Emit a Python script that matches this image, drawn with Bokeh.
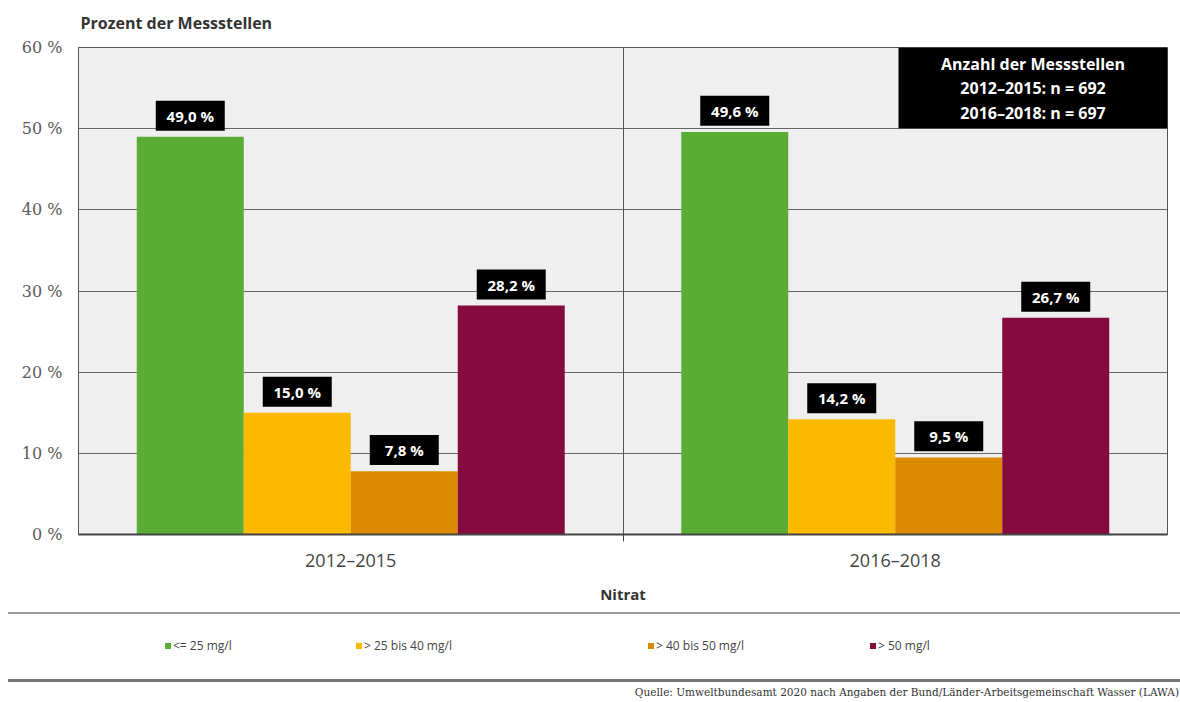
import html
from bokeh.plotting import figure
from bokeh.models import (ColumnDataSource, Range1d, FixedTicker, Label,
                          BoxAnnotation, Title, Div)
from bokeh.transform import dodge
from bokeh.layouts import column
from bokeh.embed import file_html
from bokeh.resources import INLINE
from bokeh.core.properties import value

# ---------------- data ----------------
periods = ["2012–2015", "2016–2018"]
classes = ["<= 25 mg/l", "> 25 bis 40 mg/l", "> 40 bis 50 mg/l", "> 50 mg/l"]
colors = ["#5aac34", "#fbba00", "#db8a00", "#850a3d"]
v_le25 = [49.0, 49.6]
v_25_40 = [15.0, 14.2]
v_40_50 = [7.8, 9.5]
v_gt50 = [28.2, 26.7]
series = [v_le25, v_25_40, v_40_50, v_gt50]
y_ticks = [0, 10, 20, 30, 40, 50, 60]
info_lines = ["Anzahl der Messstellen", "2012–2015: n = 692", "2016–2018: n = 697"]
source_text = "Quelle: Umweltbundesamt 2020 nach Angaben der Bund/Länder-Arbeitsgemeinschaft Wasser (LAWA)"

W = 1180
H_PLOT = 606
H_STRIP = 96
SANS = "Open Sans"
SERIF = "DejaVu Serif"

# category centers on a numeric axis (one unit per period)
centers = [i + 0.5 for i in range(len(periods))]
bar_w = 0.1965
offsets = [(-1.5 + k) * bar_w for k in range(4)]
label_lift = 2.6  # data units from bar top to label-box centre

p = figure(width=W, height=H_PLOT, x_range=Range1d(0, len(periods)), y_range=Range1d(0, 60),
           output_backend="svg", toolbar_location=None,
           min_border_left=78, min_border_right=13, min_border_top=46, min_border_bottom=60)
p.background_fill_color = "#efefef"
p.border_fill_color = "white"
p.outline_line_color = "#555555"
p.outline_line_width = 1

p.title = Title(text="Prozent der Messstellen", text_font=SANS, text_font_size="16px",
                text_font_style="bold", text_color="#333333", offset=2, standoff=23,
                vertical_align="top")

# grids
p.ygrid.ticker = FixedTicker(ticks=y_ticks)
p.ygrid.grid_line_color = "#666666"
p.ygrid.grid_line_width = 1
p.xgrid.ticker = FixedTicker(ticks=[1.0])
p.xgrid.grid_line_color = "#555555"
p.xgrid.grid_line_width = 1

# y axis
p.yaxis.ticker = FixedTicker(ticks=y_ticks)
p.yaxis.major_label_overrides = {t: f"{t} %" for t in y_ticks}
p.yaxis.major_label_text_font = SERIF
p.yaxis.major_label_text_font_size = "16px"
p.yaxis.major_label_text_color = "#5a5a5a"
p.yaxis.major_tick_line_color = None
p.yaxis.major_tick_out = 0
p.yaxis.minor_tick_line_color = None
p.yaxis.axis_line_color = "#555555"
p.yaxis.major_label_standoff = 16

# x axis
p.xaxis.ticker = FixedTicker(ticks=centers, minor_ticks=[1.0])
p.xaxis.major_label_overrides = {c: lab for c, lab in zip(centers, periods)}
p.xaxis.major_label_text_font = SANS
p.xaxis.major_label_text_font_size = "18px"
p.xaxis.major_label_text_color = "#444444"
p.xaxis.major_tick_line_color = None
p.xaxis.major_tick_out = 0
p.xaxis.minor_tick_line_color = "#444444"
p.xaxis.minor_tick_out = 7
p.xaxis.minor_tick_in = 0
p.xaxis.axis_line_color = "#444444"
p.xaxis.axis_line_width = 2
p.xaxis.major_label_standoff = 6
p.xaxis.axis_label = "Nitrat"
p.xaxis.axis_label_text_font = SANS
p.xaxis.axis_label_text_font_size = "15px"
p.xaxis.axis_label_text_font_style = "bold"
p.xaxis.axis_label_text_color = "#333333"
p.xaxis.axis_label_standoff = 9

for k, (vals, col) in enumerate(zip(series, colors)):
    src = ColumnDataSource(dict(x=centers, top=vals,
                                lab=[f"{v:.1f} %".replace(".", ",") for v in vals]))
    p.vbar(x=dodge("x", offsets[k]), top="top", width=bar_w, source=src,
           fill_color=col, line_color=None)
    p.rect(x=dodge("x", offsets[k]), y=dodge("top", label_lift), width=69, height=30,
           width_units="screen", height_units="screen", source=src,
           fill_color="black", line_color=None)
    p.text(x=dodge("x", offsets[k]), y=dodge("top", label_lift), text="lab", source=src,
           text_align="center", text_baseline="middle",
           text_font=value(SANS), text_font_size="15px", text_font_style="bold",
           text_color="white")

# info box (top right)
p.add_layout(BoxAnnotation(left=1.506, right=2.0, bottom=50.05, top=60,
                           fill_color="black", fill_alpha=1, line_color=None, level="overlay"))
p.add_layout(Label(x=1.753, y=59.3, text="\n".join(info_lines), text_align="center",
                   text_baseline="top", text_font=SANS, text_font_size="16px",
                   text_font_style="bold", text_color="white", text_line_height=1.1,
                   level="overlay"))

# ---------------- bottom legend / source strip ----------------
leg_left = [165, 356, 648, 870]
parts = [f'<div style="position:relative;width:{W}px;height:{H_STRIP}px;margin:0;padding:0;">',
         '<div style="position:absolute;left:8px;top:6px;width:1172px;height:2px;background:#9a9a9a;"></div>']
for x, c, t in zip(leg_left, colors, classes):
    parts.append(
        f'<div style="position:absolute;left:{x}px;top:31px;height:18px;line-height:18px;'
        f'font-family:\'Open Sans\';font-size:12px;color:#444;white-space:nowrap;">'
        f'<span style="display:inline-block;width:6px;height:6px;background:{c};'
        f'margin-right:2px;vertical-align:middle;position:relative;top:-1px;"></span>'
        f'{html.escape(t)}</div>')
parts.append('<div style="position:absolute;left:8px;top:73px;width:1172px;height:3px;background:#777;"></div>')
parts.append(f'<div style="position:absolute;right:1px;top:79px;font-family:\'DejaVu Serif\';'
             f'font-size:10.5px;color:#333;white-space:nowrap;">{html.escape(source_text)}</div>')
parts.append('</div>')
strip = Div(text="".join(parts), width=W, height=H_STRIP, styles={"margin": "0", "padding": "0"})

layout = column(p, strip, spacing=0)
open("out.html", "w").write(file_html(layout, INLINE))
